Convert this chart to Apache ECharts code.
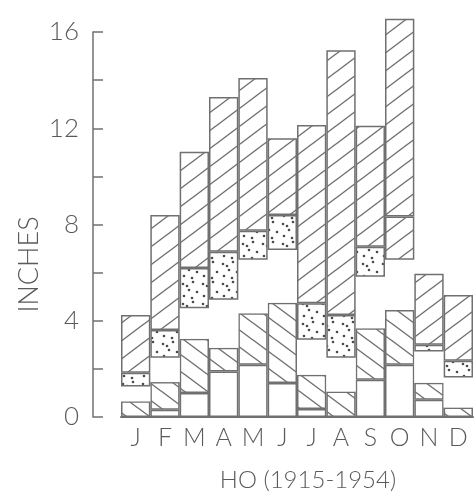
<!DOCTYPE html>
<html>
<head>
<meta charset="utf-8">
<script src="https://cdn.jsdelivr.net/npm/echarts@6/dist/echarts.min.js"></script>
<style>
  html, body { margin: 0; padding: 0; background: #fff; }
  #chart { width: 474px; height: 501px; }
</style>
</head>
<body>
<div id="chart"></div>
<script>
// months
const months = ["J", "F", "M", "A", "M", "J", "J", "A", "S", "O", "N", "D"];

// layer tops in inches (bottom -> top)
const plainTop     = [0, 0.3, 1.0, 1.89, 2.17, 1.41, 0.33, 0, 1.55, 2.17, 0.72, 0];
const backslashTop = [0.65, 1.45, 3.25, 2.88, 4.31, 4.75, 1.76, 1.06, 3.69, 4.45, 1.42, 0.4];
const blankTop     = [1.27, 2.46, 4.52, 4.87, 6.53, 6.94, 3.21, 2.46, 5.83, 6.53, 2.72, 1.64];
const dottedTop    = [1.84, 3.62, 6.19, 6.87, 7.74, 8.39, 4.73, 4.24, 7.08, 6.53, 3.0, 2.34];
const splitTop     = [1.84, 3.62, 6.19, 6.87, 7.74, 8.39, 4.73, 4.24, 7.08, 8.33, 3.0, 2.34];
const totalTop     = [4.24, 8.39, 11.02, 13.3, 14.09, 11.58, 12.13, 15.24, 12.1, 16.55, 5.95, 5.07];

const yTicks = [0, 4, 8, 12, 16];

const LINE = "#707070";
const TEXT = "#5a5a5a";
const FONT = "Lato";

// hatch / dot fills
function hatch(w, h, forward) {
  const c = document.createElement("canvas");
  c.width = w; c.height = h;
  const ctx = c.getContext("2d");
  ctx.strokeStyle = LINE;
  ctx.lineWidth = 1.4;
  for (let k = -1; k <= 1; k++) {
    ctx.beginPath();
    if (forward) {
      ctx.moveTo(-w, 2 * h + k * h);
      ctx.lineTo(2 * w, -h + k * h);
    } else {
      ctx.moveTo(-w, -h + k * h);
      ctx.lineTo(2 * w, 2 * h + k * h);
    }
    ctx.stroke();
  }
  return { image: c, repeat: "repeat" };
}
function dots() {
  const c = document.createElement("canvas");
  c.width = 20; c.height = 20;
  const ctx = c.getContext("2d");
  ctx.fillStyle = "#fff";
  ctx.fillRect(0, 0, 20, 20);
  ctx.fillStyle = "#4a4a4a";
  [[3, 4], [13, 2], [9, 10], [17, 12], [4, 16], [12, 18], [7, 6]].forEach(function (p) {
    ctx.beginPath();
    ctx.arc(p[0], p[1], 1.3, 0, Math.PI * 2);
    ctx.fill();
  });
  return { image: c, repeat: "repeat" };
}

function diff(top, bottom) {
  return top.map(function (v, i) {
    const d = +(v - (bottom ? bottom[i] : 0)).toFixed(2);
    return d > 0 ? d : null;
  });
}

function layer(name, data, color, border) {
  return {
    name: name,
    type: "bar",
    stack: "rain",
    barCategoryGap: "0%",
    clip: false,
    data: data,
    silent: true,
    itemStyle: {
      color: color,
      borderColor: LINE,
      borderWidth: border ? 1.5 : 0,
    },
  };
}

const chart = echarts.init(document.getElementById("chart"), null, { renderer: "canvas" });
chart.setOption({
  backgroundColor: "#fff",
  animation: false,
  grid: {
    left: 121,
    right: 1,
    top: 32,
    bottom: 84,
    containLabel: false,
    outerBoundsMode: "none",
  },
  xAxis: {
    type: "category",
    data: months,
    name: "HO (1915-1954)",
    nameLocation: "middle",
    nameGap: 51,
    nameTextStyle: {
      color: TEXT,
      fontFamily: FONT,
      fontWeight: 300,
      fontSize: 24,
      lineHeight: 24,
      padding: [0, 0, 0, 22],
    },
    axisLine: { show: true, lineStyle: { color: LINE, width: 2 } },
    axisTick: { show: false },
    axisLabel: {
      color: TEXT,
      fontFamily: FONT,
      fontWeight: 300,
      fontSize: 25,
      lineHeight: 25,
      margin: 8,
      interval: 0,
    },
    splitLine: { show: false },
  },
  yAxis: {
    type: "value",
    min: 0,
    max: 16,
    interval: 2,
    offset: 28,
    name: "INCHES",
    nameLocation: "middle",
    nameRotate: 90,
    nameGap: 50,
    nameMoveOverlap: false,
    nameTextStyle: {
      color: TEXT,
      fontFamily: FONT,
      fontWeight: 300,
      fontSize: 27,
      lineHeight: 27,
      padding: [0, 80, 0, 0],
    },
    axisLine: { show: true, lineStyle: { color: LINE, width: 1.5 } },
    axisTick: { show: true, inside: true, length: 10, lineStyle: { color: LINE, width: 1.5 } },
    axisLabel: {
      color: TEXT,
      fontFamily: FONT,
      fontWeight: 300,
      fontSize: 26,
      margin: 14,
      formatter: function (v) {
        return yTicks.indexOf(v) >= 0 ? String(v) : "";
      },
    },
    splitLine: { show: false },
  },
  series: [
    layer("plain", diff(plainTop), "#fff", true),
    layer("backslash", diff(backslashTop, plainTop), hatch(23, 17, false), true),
    layer("blank", diff(blankTop, backslashTop), "#fff", false),
    layer("dotted", diff(dottedTop, blankTop), dots(), true),
    layer("slashLow", diff(splitTop, dottedTop), hatch(24, 18, true), true),
    layer("slash", diff(totalTop, splitTop), hatch(24, 18, true), true),
  ],
});
</script>
</body>
</html>
